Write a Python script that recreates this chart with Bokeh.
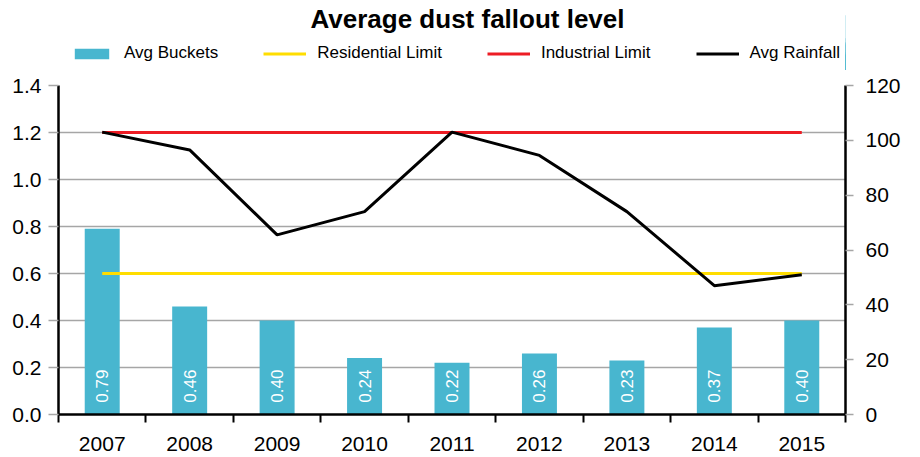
import math
from bokeh.plotting import figure
from bokeh.layouts import column
from bokeh.models import (Range1d, LinearAxis, FixedTicker, Legend, LegendItem, Label,
                          NumeralTickFormatter, ColumnDataSource)
from bokeh.core.properties import value
from bokeh.embed import file_html
from bokeh.resources import INLINE

# ---- data ----
years = [2007, 2008, 2009, 2010, 2011, 2012, 2013, 2014, 2015]
avg_buckets = [0.79, 0.46, 0.40, 0.24, 0.22, 0.26, 0.23, 0.37, 0.40]
avg_rainfall = [103, 96.5, 65.5, 74, 103, 94.5, 74, 47, 51]
residential_limit = 0.6
industrial_limit = 1.2
left_ticks = [0.0, 0.2, 0.4, 0.6, 0.8, 1.0, 1.2, 1.4]
right_ticks = [0, 20, 40, 60, 80, 100, 120]
series_names = ["Avg Buckets", "Residential Limit", "Industrial Limit", "Avg Rainfall"]
title_text = "Average dust fallout level"

BLUE = "#48b6cf"
YELLOW = "#ffdd00"
RED = "#ed1c24"
GRID = "#a6a6a6"
FONT = "Liberation Sans"

src = ColumnDataSource(dict(x=years, b=avg_buckets, r=avg_rainfall,
                            res=[residential_limit] * len(years),
                            ind=[industrial_limit] * len(years),
                            lbl=[f"{v:.2f}" for v in avg_buckets],
                            ly=[0.05] * len(years)))

# ---- header figure: title + legend (its glyph renderers fall outside its ranges) ----
h = figure(width=904, height=70, output_backend="svg", toolbar_location=None,
           x_range=Range1d(0, 1), y_range=Range1d(0, 1),
           x_axis_location=None, y_axis_location=None,
           min_border_left=0, min_border_right=0, min_border_top=0, min_border_bottom=0)
h.grid.visible = False
h.outline_line_color = None

h.add_layout(Label(x=409, y=52, x_units="screen", y_units="screen", text=title_text,
                   text_align="center", text_baseline="middle", text_font=FONT,
                   text_font_size="26px", text_font_style="bold", text_color="black"))

lb = h.vbar(x="x", top="b", width=0.4, source=src, fill_color=BLUE, line_color=None)
lr = h.line(x="x", y="res", source=src, line_color=YELLOW, line_width=3)
li = h.line(x="x", y="ind", source=src, line_color=RED, line_width=3)
lk = h.line(x="x", y="r", source=src, line_color="black", line_width=3)

legend = Legend(items=[LegendItem(label=n, renderers=[r]) for n, r in zip(series_names, [lb, lr, li, lk])],
                orientation="horizontal", location=(12, 7),
                glyph_width=43, glyph_height=13, label_standoff=11, spacing=45,
                label_text_font=FONT, label_text_font_size="17px", label_text_color="black",
                border_line_color=None, background_fill_alpha=0, padding=0, margin=0)
h.add_layout(legend)

# ---- main chart ----
p = figure(width=904, height=386, output_backend="svg", toolbar_location=None,
           x_range=Range1d(years[0] - 0.5, years[-1] + 0.5), y_range=Range1d(0, 1.4),
           min_border_left=58, min_border_right=59, min_border_top=15, min_border_bottom=42)
p.extra_y_ranges = {"rain": Range1d(0, 120)}
p.outline_line_color = None

p.vbar(x="x", top="b", width=0.4, source=src, fill_color=BLUE, line_color=None)
p.line(x="x", y="res", source=src, line_color=YELLOW, line_width=3)
p.line(x="x", y="ind", source=src, line_color=RED, line_width=3)
p.line(x="x", y="r", source=src, line_color="black", line_width=3, y_range_name="rain")
p.text(x="x", y="ly", text="lbl", source=src, angle=math.pi / 2, text_align="left",
       text_baseline="middle", text_color="white", text_font=value(FONT), text_font_size="17px")

# grid
p.xgrid.grid_line_color = None
p.ygrid.grid_line_color = GRID
p.ygrid.grid_line_width = 1.5
p.ygrid.ticker = FixedTicker(ticks=left_ticks)

# x axis
xa = p.xaxis[0]
xa.ticker = FixedTicker(ticks=years, minor_ticks=[y - 0.5 for y in years] + [years[-1] + 0.5])
xa.major_tick_out = 0
xa.major_tick_in = 0
xa.minor_tick_out = 8
xa.minor_tick_in = 0
xa.minor_tick_line_color = "black"
xa.minor_tick_line_width = 2
xa.axis_line_width = 2.5
xa.major_label_standoff = 14
xa.major_label_text_font = FONT
xa.major_label_text_font_size = "21px"
xa.major_label_text_color = "black"

# left axis
ya = p.yaxis[0]
ya.ticker = FixedTicker(ticks=left_ticks)
ya.formatter = NumeralTickFormatter(format="0.0")
ya.axis_line_width = 2.5
ya.major_tick_out = 10
ya.major_tick_in = 0
ya.major_tick_line_color = GRID
ya.major_tick_line_width = 1.5
ya.minor_tick_line_color = None
ya.major_label_standoff = 7
ya.major_label_text_font = FONT
ya.major_label_text_font_size = "21px"
ya.major_label_text_color = "black"

# right axis
ra = LinearAxis(y_range_name="rain", ticker=FixedTicker(ticks=right_ticks))
ra.axis_line_width = 2.5
ra.major_tick_out = 8
ra.major_tick_in = 0
ra.major_tick_line_color = GRID
ra.major_tick_line_width = 1.5
ra.minor_tick_line_color = None
ra.major_label_standoff = 12
ra.major_label_text_font = FONT
ra.major_label_text_font_size = "21px"
ra.major_label_text_color = "black"
p.add_layout(ra, "right")

layout = column(h, p, spacing=0)
open("out.html", "w").write(file_html(layout, INLINE))
